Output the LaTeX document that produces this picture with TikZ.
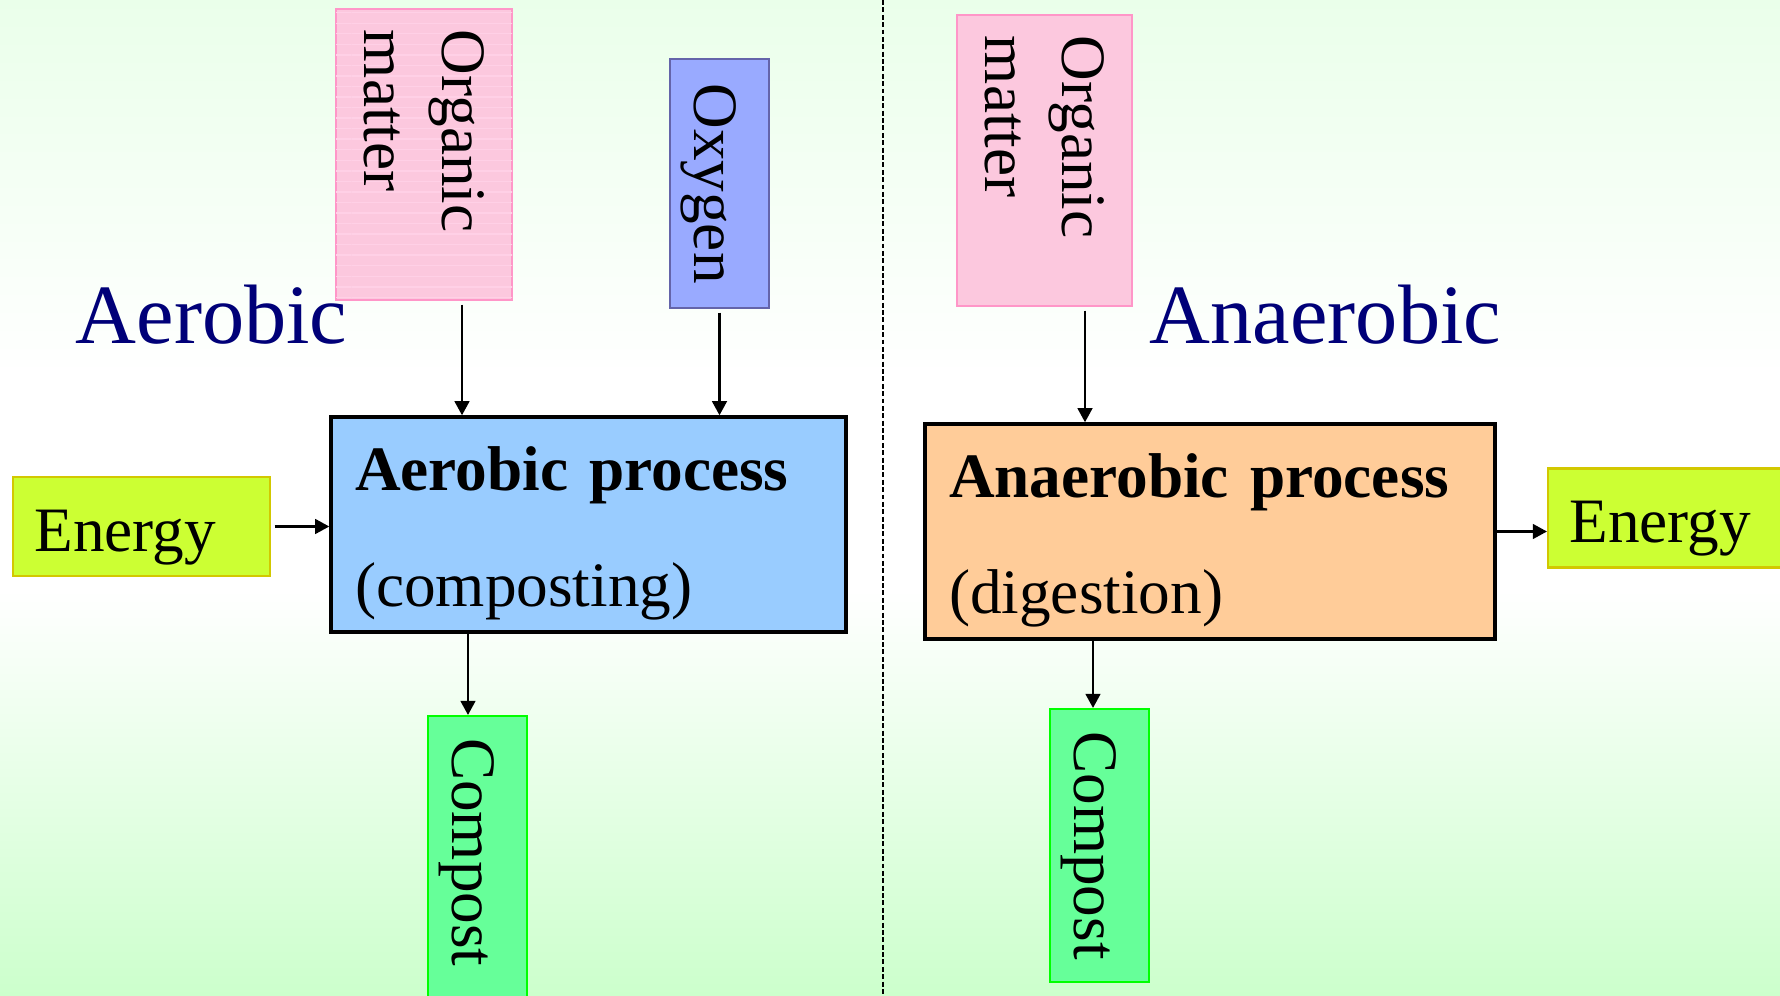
\documentclass[tikz,border=0pt]{standalone}
\usepackage{fontspec}
\setmainfont{Liberation Serif}
\usepackage{xcolor}
\usetikzlibrary{positioning}
\usetikzlibrary{calc}
\usetikzlibrary{arrows.meta}
\usetikzlibrary{patterns}

\definecolor{bgtop}{RGB}{234,255,234}
\definecolor{bgbottom}{RGB}{204,255,204}
\definecolor{pinkfill}{RGB}{252,200,222}
\definecolor{pinkline}{RGB}{255,150,200}
\definecolor{oxyfill}{RGB}{153,170,255}
\definecolor{oxyline}{RGB}{100,100,170}
\definecolor{aerofill}{RGB}{153,204,255}
\definecolor{anaefill}{RGB}{255,204,153}
\definecolor{energyfill}{RGB}{204,255,51}
\definecolor{energyline}{RGB}{210,200,0}
\definecolor{compfill}{RGB}{102,255,153}
\definecolor{compline}{RGB}{0,255,0}
\definecolor{labelblue}{RGB}{0,0,120}

\begin{document}
\begin{tikzpicture}[flow/.style={-{Triangle[length=4pt,width=4.2pt]}, line width=0.6pt},
    divider/.style={dash pattern=on 1.4pt off 0.7pt, line width=0.55pt},
    boxfont/.style={font=\fontsize{18}{22}\selectfont},
    procbox/.style={boxfont, draw=black, line width=1pt, minimum height=2.15cm,
      align=left, inner xsep=0.24cm},
    energybox/.style={boxfont, fill=energyfill, draw=energyline, line width=0.6pt,
      text width=2.14cm, inner xsep=0.215cm, inner ysep=0pt, align=left,
      text height=18pt, text depth=4pt, minimum height=0.99cm},
    compbox/.style={boxfont, rotate=-90, fill=compfill, draw=compline, line width=0.6pt,
      text height=14pt, text depth=0pt, minimum height=0.99cm},
    sidelabel/.style={font=\fontsize{24}{28}\selectfont, text=labelblue, inner sep=0pt}]
        \shade[top color=bgtop, bottom color=white] (0,6.2) rectangle (17.8,9.95);
        \fill[white] (0,4.05) rectangle (17.8,6.2);
        \shade[top color=white, bottom color=bgbottom] (0,0) rectangle (17.8,4.05);
        \useasboundingbox (0,0) rectangle (17.8,9.95);

        \coordinate (divtop) at (8.83,9.95);
        \coordinate (divbot) at (8.83,0);
        \draw[divider] (divtop) -- (divbot);

        \node [boxfont, rotate=-90, fill=pinkfill, draw=pinkline, line width=0.6pt,
          minimum height=1.76cm, text width=2.49cm, inner xsep=0.21cm, align=left,
          postaction={pattern=horizontal lines, pattern color=pinkline!45}] (orgA) at (4.24,8.405) {Organic\\matter};
        \node [boxfont, rotate=-90, fill=oxyfill, draw=oxyline, line width=0.6pt,
          text height=14pt, text depth=0pt, minimum width=2.49cm, minimum height=0.99cm] (oxy) at (7.195,8.115) {Oxygen};
        \node [sidelabel, anchor=base] (aeroLbl) at (2.115,6.51) {Aerobic};
        \node [procbox, fill=aerofill, text width=4.67cm] (aeroBox) at (5.885,4.705)
          {\rule{0pt}{17.5pt}\textbf{Aerobic process}\\[11pt](composting)};
        \node [energybox] (enL) at (1.415,4.685) {Energy};
        \node [compbox, text width=2.7cm, inner xsep=0.22cm, align=left] (compL) at (4.775,1.22) {Compost};

        \node [boxfont, rotate=-90, fill=pinkfill, draw=pinkline, line width=0.6pt,
          minimum height=1.75cm, text width=2.49cm, inner xsep=0.21cm, align=left] (orgN) at (10.445,8.345) {Organic\\matter};
        \node [sidelabel, anchor=base] (anaeLbl) at (13.255,6.51) {Anaerobic};
        \node [procbox, fill=anaefill, text width=5.22cm] (anaeBox) at (12.10,4.635)
          {\rule{0pt}{17.5pt}\textbf{Anaerobic process}\\[11pt](digestion)};
        \node [energybox] (enR) at (16.765,4.77) {Energy};
        \node [compbox, minimum width=2.73cm] (compN) at (10.995,1.495) {Compost};

        \draw[flow, shorten <=1pt] ([xshift=3.8mm]orgA.east) -- ([xshift=3.8mm]orgA.east |- aeroBox.north);
        \draw[flow, shorten <=1pt] (oxy.east) -- (oxy.east |- aeroBox.north);
        \draw[flow, shorten <=1pt] (enL.east) -- (enL.east -| aeroBox.west);
        \draw[flow] ([xshift=-0.95mm]compL.west |- aeroBox.south) -- ([xshift=-0.95mm]compL.west);

        \draw[flow, shorten <=1pt] ([xshift=4.05mm]orgN.east) -- ([xshift=4.05mm]orgN.east |- anaeBox.north);
        \draw[flow] (anaeBox.east) -- (anaeBox.east -| enR.west);
        \draw[flow] ([xshift=-0.65mm]compN.west |- anaeBox.south) -- ([xshift=-0.65mm]compN.west);
    \end{tikzpicture}
\end{document}
